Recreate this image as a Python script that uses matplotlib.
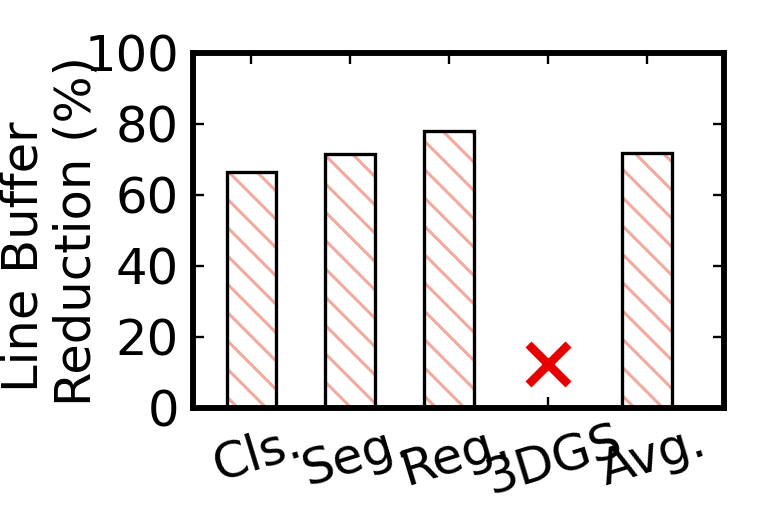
import numpy as np
import matplotlib
matplotlib.use("Agg")
import matplotlib.pyplot as plt
import matplotlib.transforms as mtransforms

categories = ["Cls.", "Seg.", "Reg.", "3DGS", "Avg."]
reduction = [66.5, 71.5, 78.0, np.nan, 71.8]
missing_idx = 3
missing_mark = 12.5

plt.rcParams['font.family'] = 'DejaVu Sans'
plt.rcParams['font.size'] = 21
plt.rcParams['hatch.linewidth'] = 1.3

fig = plt.figure(figsize=(764/170, 511/170), dpi=170)
ax = fig.add_axes([0.2526, 0.2016, 0.695, 0.6947])

x = np.arange(len(categories))
vals = np.array(reduction)
ok = ~np.isnan(vals)

# hatch drawn in salmon, outline drawn separately in black
ax.bar(x[ok], vals[ok], width=0.5, color='white', edgecolor='#f2aa9e',
       hatch='\\\\', linewidth=0, zorder=2)
ax.bar(x[ok], vals[ok], width=0.5, color='none', edgecolor='black',
       linewidth=1.4, zorder=3)

ax.plot([x[missing_idx]], [missing_mark], marker='x', color='#e60000',
        markersize=17, markeredgewidth=3.6, linestyle='none', zorder=4)

ax.set_xlim(-0.59, 4.78)
ax.set_ylim(0, 100)
ax.set_yticks([0, 20, 40, 60, 80, 100])
ax.set_xticks(x)
ax.set_xticklabels(categories, rotation=17, ha='center')
ax.tick_params(direction='in', length=4.5, width=1.0, top=True, right=True,
               pad=6)
ax.tick_params(axis='x', pad=4)
for s in ax.spines.values():
    s.set_linewidth(2.5)

shift = mtransforms.ScaledTranslation(6/170, 0, fig.dpi_scale_trans)
for lab in ax.get_xticklabels():
    lab.set_transform(lab.get_transform() + shift)

# two-line y label, lines offset like the original
fig.text(0.0485, 0.497, "Line Buffer", rotation=90, rotation_mode='anchor',
         ha='center', va='baseline')
fig.text(0.119, 0.548, "Reduction (%)", rotation=90, rotation_mode='anchor',
         ha='center', va='baseline')

fig.savefig("out.png", dpi=170)
